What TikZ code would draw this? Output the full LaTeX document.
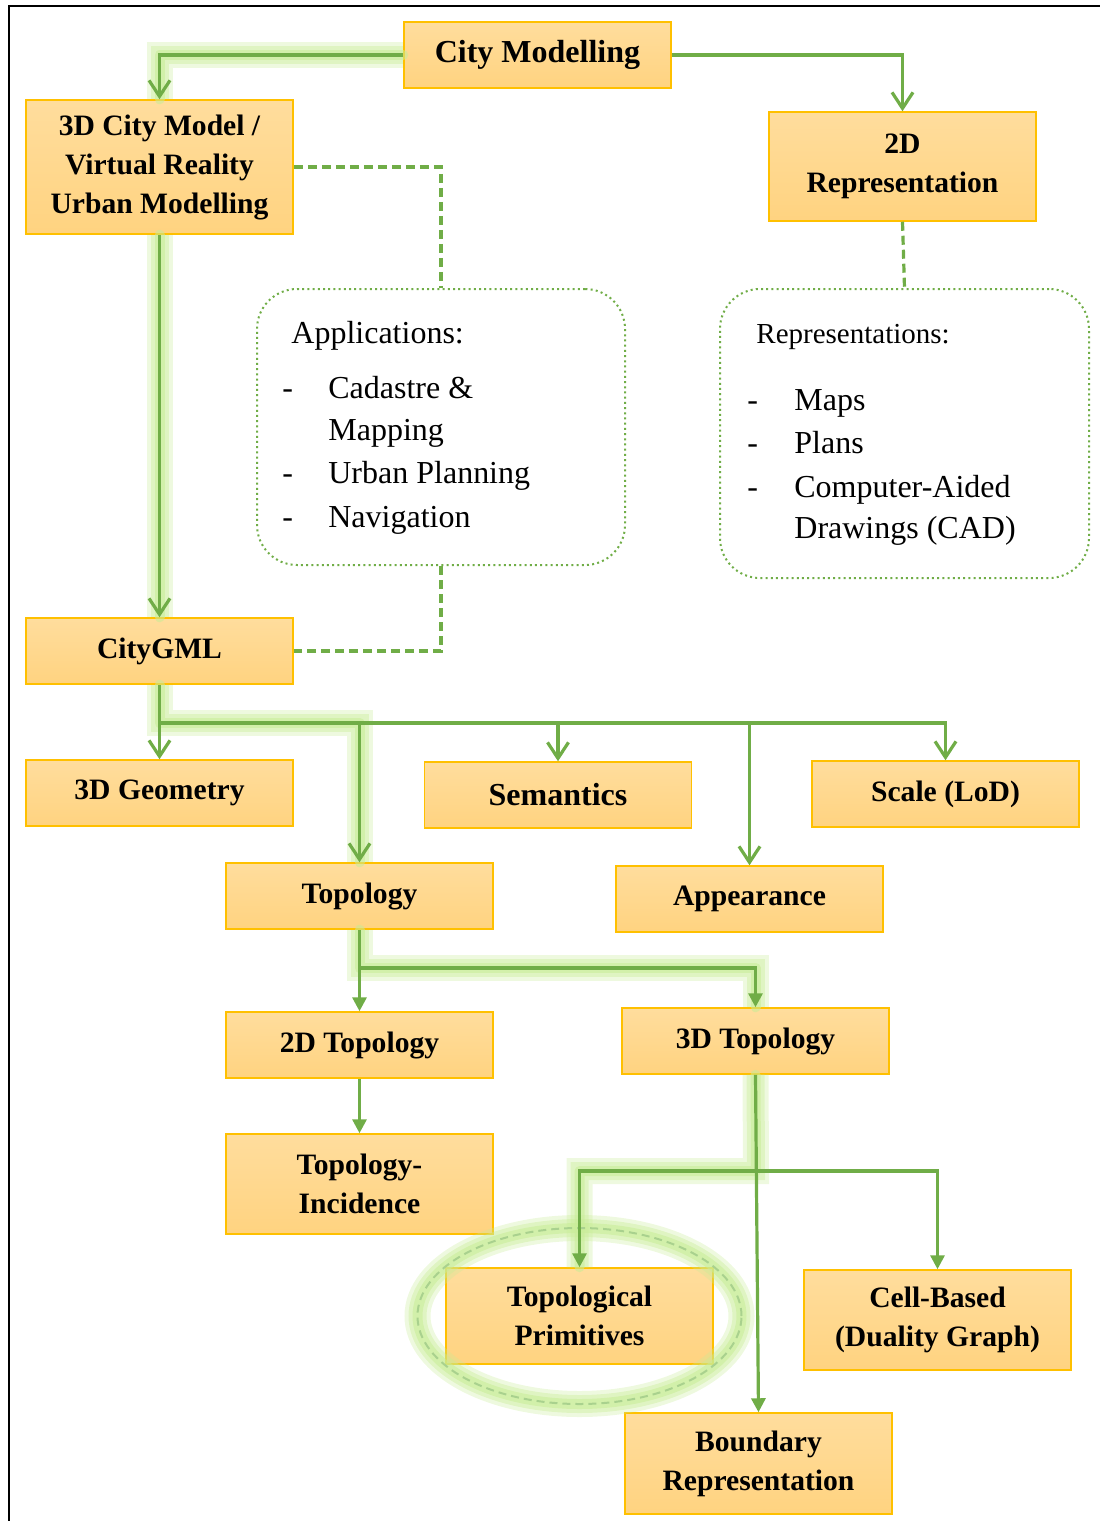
\documentclass[tikz,border=0pt]{standalone}
\usepackage{fontspec}
\setmainfont{Liberation Serif}
\usetikzlibrary{arrows.meta}

\definecolor{linegreen}{RGB}{112,173,71}
\definecolor{glowgreen}{RGB}{200,236,150}
\definecolor{ringgreen}{RGB}{169,209,142}
\definecolor{boxgold}{RGB}{255,192,0}
\definecolor{boxtop}{RGB}{255,221,157}
\definecolor{boxbottom}{RGB}{255,211,128}

\tikzset{
  box/.style={draw=boxgold, line width=0.75pt, top color=boxtop, bottom color=boxbottom,
    minimum width=133.5pt, minimum height=33pt, inner sep=0pt, align=center,
    font=\fontsize{14.8}{19.5}\selectfont\bfseries},
  bigtext/.style={font=\fontsize{16}{19.5}\selectfont\bfseries},
  note/.style={draw=linegreen, line width=1pt, dash pattern=on 1pt off 1.6pt,
    rounded corners=20pt, inner sep=0pt},
  listline/.style={anchor=base west, inner sep=0pt, font=\fontsize{16}{19}\selectfont},
  link/.style={draw=linegreen, line width=1.6pt},
  openarrow/.style={link, -{Straight Barb[length=8pt,width=10.5pt]}},
  fillarrow/.style={link, -{Triangle[length=7pt,width=7pt]}},
  dashlink/.style={link, dash pattern=on 4.5pt off 2.5pt},
  glow/.style={draw=glowgreen, line cap=round, line join=round, line width=5pt, draw opacity=0.55,
    preaction={draw=glowgreen, line width=9pt, draw opacity=0.4},
    preaction={draw=glowgreen, line width=13pt, draw opacity=0.3}}
}

\begin{document}
\begin{tikzpicture}[x=0.5pt, y=-0.5pt]
  \useasboundingbox (0,0) rectangle (1100,1521);
  \draw[line width=1pt] (8.5,1521) -- (8.5,6) -- (1100,6);

  % boxes
  \node[box, bigtext] (city) at (537.5,55) {City Modelling};
  \node[box, minimum height=67pt] (vr) at (159.5,167) {3D City Model /\\Virtual Reality\\Urban Modelling};
  \node[box, minimum height=54.5pt] (rep2d) at (902.5,166.5) {2D\\Representation};
  \node[note, minimum width=184pt, minimum height=138pt] (apps) at (441,427) {};
  \node[note, minimum width=184.5pt, minimum height=144.5pt] (reps) at (904.5,433.5) {};
  \node[box] (citygml) at (159.5,651) {CityGML};
  \node[box] (geom) at (159.5,793) {3D Geometry};
  \node[box, bigtext] (sem) at (558,795) {Semantics};
  \node[box] (scale) at (945.5,794) {Scale (LoD)};
  \node[box] (topo) at (359.5,896) {Topology};
  \node[box] (appear) at (749.5,899) {Appearance};
  \node[box] (topo2d) at (359.5,1045) {2D Topology};
  \node[box] (topo3d) at (755.5,1041) {3D Topology};
  \node[box, minimum height=50pt] (incid) at (359.5,1184) {Topology-\\Incidence};
  \node[box, minimum height=48pt] (prim) at (579.5,1316) {Topological\\Primitives};
  \node[box, minimum height=50pt] (cell) at (937.5,1320) {Cell-Based\\(Duality Graph)};
  \node[box, minimum height=50.5pt] (brep) at (758.5,1463.5) {Boundary\\Representation};

  % list texts
  \node[listline] (apphead) at (291,343) {Applications:};
  \node[listline] (app1) at (282,398) {\makebox[23pt][l]{-}Cadastre \&};
  \node[listline] (app2) at (328,440) {Mapping};
  \node[listline] (app3) at (282,483) {\makebox[23pt][l]{-}Urban Planning};
  \node[listline] (app4) at (282,527) {\makebox[23pt][l]{-}Navigation};

  \node[listline, font=\fontsize{14.5}{17}\selectfont] (rephead) at (756,343) {Representations:};
  \node[listline] (rep1) at (747,410) {\makebox[23.5pt][l]{-}Maps};
  \node[listline] (rep2) at (747,453) {\makebox[23.5pt][l]{-}Plans};
  \node[listline] (rep3) at (747,497) {\makebox[23.5pt][l]{-}Computer-Aided};
  \node[listline] (rep4) at (794,538) {Drawings (CAD)};

  \coordinate (split1) at (159.5,723);
  \coordinate (split2) at (359.5,968);
  \coordinate (split3) at (756,1171);

  % glow along the highlighted path
  \draw[glow] (city.west) -| (vr.north);
  \draw[glow] (vr.south) -- (citygml.north);
  \draw[glow] (citygml.south) -- (split1) -| (topo.north);
  \draw[glow] (topo.south) -- (split2) -| (topo3d.north);
  \draw[glow] (topo3d.south) -- (split3) -| (prim.north);
  \draw[glow] (prim.center) ellipse [x radius=81pt, y radius=44pt];
  \draw[ringgreen, line width=1pt, dash pattern=on 4pt off 2.5pt] (prim.center) ellipse [x radius=81pt, y radius=44pt];

  % connectors
  \draw[openarrow] (city.west) -| (vr.north);
  \draw[openarrow] (city.east) -| (rep2d.north);
  \draw[dashlink] (vr.east) -| (apps.north);
  \draw[dashlink] (apps.south) |- (citygml.east);
  \draw[dashlink] (rep2d.south) -- (reps.north);
  \draw[openarrow] (vr.south) -- (citygml.north);

  \draw[link] (citygml.south) -- (split1);
  \draw[openarrow] (split1) -| (scale.north);
  \draw[openarrow] (split1) -- (geom.north);
  \draw[openarrow] (split1 -| topo.north) -- (topo.north);
  \draw[openarrow] (split1 -| sem.north) -- (sem.north);
  \draw[openarrow] (split1 -| appear.north) -- (appear.north);

  \draw[fillarrow] (topo.south) -- (split2) -| (topo3d.north);
  \draw[fillarrow] (split2) -- (topo2d.north);
  \draw[fillarrow] (topo2d.south) -- (incid.north);

  \draw[fillarrow] (topo3d.south) -- (brep.north);
  \draw[fillarrow] (split3) -| (prim.north);
  \draw[fillarrow] (split3) -| (cell.north);
\end{tikzpicture}
\end{document}
